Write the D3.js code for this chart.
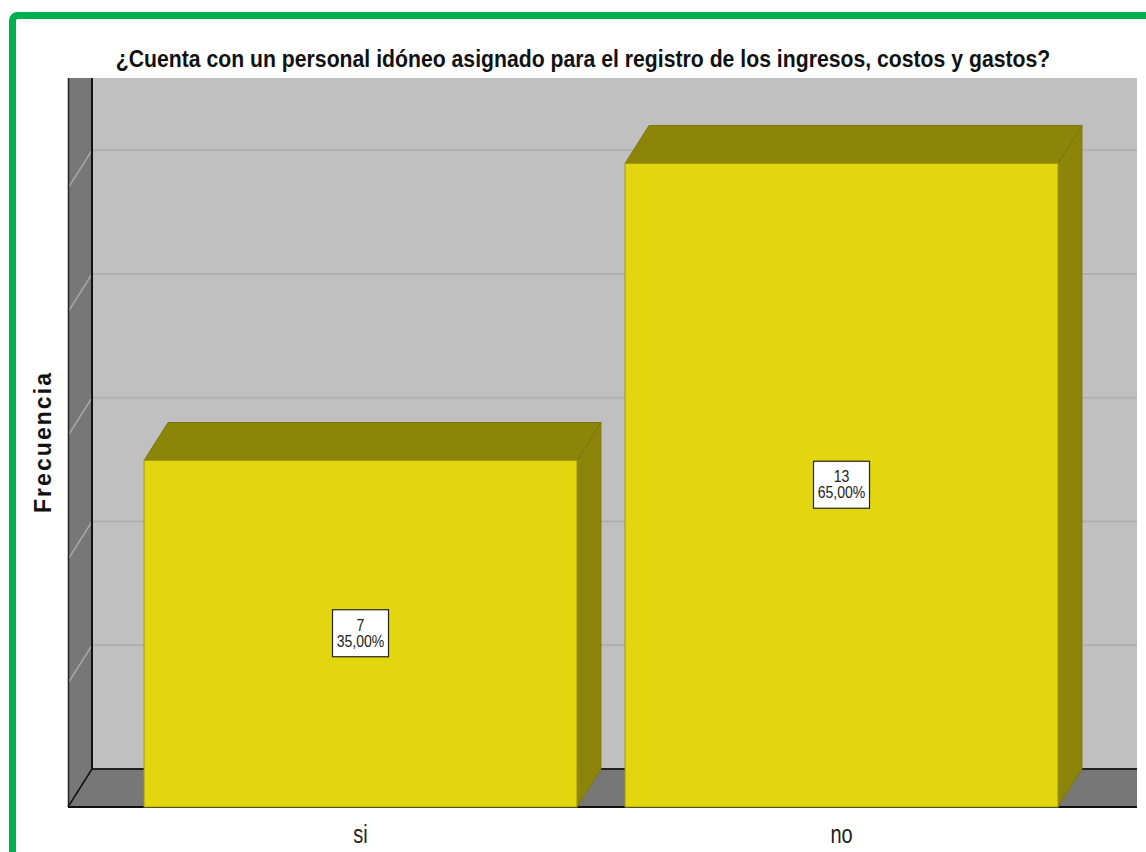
<!DOCTYPE html>
<html>
<head>
<meta charset="utf-8">
<script src="https://cdn.jsdelivr.net/npm/d3@7"></script>
<style>
  html, body { margin: 0; padding: 0; background: #fff; }
  svg { display: block; }
</style>
</head>
<body>
<svg id="chart" width="1146" height="852"></svg>
<script>
// ---- data ----
const categories = ["si", "no"];
const counts = [7, 13];
const percents = ["35,00%", "65,00%"];
const gridTicks = [2.5, 5, 7.5, 10, 12.5];
const titleText = "¿Cuenta con un personal idóneo asignado para el registro de los ingresos, costos y gastos?";
const yTitle = "Frecuencia";

// ---- layout ----
const W = 1146, H = 852;
const depthX = 24, depthY = 38;
const backLeft = 92, backRight = 1137, backTop = 78, backBottom = 769;
const frontBottom = backBottom + depthY;
const frontLeft = backLeft - depthX;

const svg = d3.select("#chart");

// scales
const x = d3.scaleBand().domain(categories).range([120, 1082]).paddingInner(0.1).paddingOuter(0.05);
const yBack = d3.scaleLinear().domain([0, 14]).range([backBottom, 76]);
const yFront = v => yBack(v) + depthY;

// green frame
svg.append("rect")
  .attr("x", 12.5).attr("y", 15.5).attr("width", 1300).attr("height", 1000)
  .attr("rx", 5).attr("fill", "none").attr("stroke", "#00B050").attr("stroke-width", 7);

// clip
svg.append("defs").append("clipPath").attr("id", "plotclip")
  .append("rect").attr("x", 0).attr("y", backTop).attr("width", backRight).attr("height", H - backTop);

const g = svg.append("g").attr("clip-path", "url(#plotclip)");

// back wall
g.append("rect").attr("x", backLeft).attr("y", backTop)
  .attr("width", backRight - backLeft).attr("height", backBottom - backTop)
  .attr("fill", "#C0C0C0");

// back wall gridlines
g.selectAll(".gridb").data(gridTicks).join("line")
  .attr("x1", backLeft).attr("x2", backRight)
  .attr("y1", d => yBack(d)).attr("y2", d => yBack(d))
  .attr("stroke", "#AFAFAF").attr("stroke-width", 2);

// left wall
g.append("path")
  .attr("d", `M${frontLeft},${backTop - 60}L${backLeft},${backTop - 60}L${backLeft},${backBottom}L${frontLeft},${frontBottom}Z`)
  .attr("fill", "#777777");

// left wall gridlines
g.selectAll(".gridl").data(gridTicks).join("line")
  .attr("x1", backLeft).attr("x2", frontLeft)
  .attr("y1", d => yBack(d)).attr("y2", d => yBack(d) + depthY)
  .attr("stroke", "#A6A6A6").attr("stroke-width", 1.5);

// floor
g.append("path")
  .attr("d", `M${backLeft},${backBottom}L${backRight},${backBottom}L${backRight},${frontBottom}L${frontLeft},${frontBottom}Z`)
  .attr("fill", "#777777");

// edges
const edge = (x1, y1, x2, y2, c, w) => g.append("line")
  .attr("x1", x1).attr("y1", y1).attr("x2", x2).attr("y2", y2)
  .attr("stroke", c).attr("stroke-width", w);
edge(frontLeft + 0.5, backTop, frontLeft + 0.5, frontBottom, "#222", 1.5);
edge(backLeft, backTop, backLeft, backBottom, "#111", 2);
edge(backLeft, backBottom, backRight, backBottom, "#222", 2);
edge(frontLeft, frontBottom, backRight, frontBottom, "#111", 2);
edge(frontLeft, frontBottom, backLeft, backBottom, "#111", 1.5);

// bars
const bw = x.bandwidth();
const rows = categories.map((c, i) => ({ c, v: counts[i], p: percents[i] }));
const bars = g.selectAll(".bar").data(rows).join("g").attr("class", "bar");

bars.append("path") // side
  .attr("d", d => {
    const xr = x(d.c) + bw;
    return `M${xr},${yFront(d.v)}L${xr + depthX},${yBack(d.v)}L${xr + depthX},${backBottom}L${xr},${frontBottom}Z`;
  })
  .attr("fill", "#8C8509").attr("stroke", "#7D7708").attr("stroke-width", 1);

bars.append("path") // top
  .attr("d", d => {
    const xl = x(d.c), xr = x(d.c) + bw;
    return `M${xl},${yFront(d.v)}L${xl + depthX},${yBack(d.v)}L${xr + depthX},${yBack(d.v)}L${xr},${yFront(d.v)}Z`;
  })
  .attr("fill", "#8C8509").attr("stroke", "#7D7708").attr("stroke-width", 1);

bars.append("rect") // front
  .attr("x", d => x(d.c)).attr("y", d => yFront(d.v))
  .attr("width", bw).attr("height", d => frontBottom - yFront(d.v))
  .attr("fill", "#E2D70E").attr("stroke", "#A39C0B").attr("stroke-width", 1);

// value labels
const lab = svg.selectAll(".lab").data(rows).join("g").attr("class", "lab")
  .attr("transform", d => `translate(${x(d.c) + bw / 2},${(yFront(d.v) + frontBottom) / 2})`);
lab.append("rect").attr("x", -28).attr("y", -24).attr("width", 56).attr("height", 47)
  .attr("fill", "#fff").attr("stroke", "#222").attr("stroke-width", 1.2);
const labText = (sel, y, f) => sel.append("text")
  .attr("transform", `translate(0,${y}) scale(0.88,1)`).attr("text-anchor", "middle")
  .attr("font-family", "'Liberation Sans', Arial, sans-serif").attr("font-size", 16).attr("fill", "#222")
  .text(f);
labText(lab, -3, d => d.v);
labText(lab, 13, d => d.p);

// category labels
svg.selectAll(".cat").data(categories).join("text")
  .attr("transform", d => `translate(${x(d) + bw / 2},843) scale(0.8,1)`)
  .attr("text-anchor", "middle")
  .attr("font-family", "'Liberation Sans', Arial, sans-serif")
  .attr("font-size", 25).attr("fill", "#222")
  .text(d => d);

// title
const t = svg.append("text").attr("text-anchor", "middle")
  .attr("font-family", "'Liberation Sans', Arial, sans-serif").attr("font-weight", "bold")
  .attr("font-size", 24).attr("fill", "#111").text(titleText);
const tw = t.node().getComputedTextLength();
t.attr("transform", `translate(583,67) scale(${935 / tw},1)`);

// y title
const yt = svg.append("text").attr("transform", "translate(51,442) rotate(-90)")
  .attr("text-anchor", "middle")
  .attr("font-family", "'Liberation Sans', Arial, sans-serif").attr("font-weight", "bold")
  .attr("font-size", 23).attr("fill", "#111").text(yTitle);
const yw = yt.node().getComputedTextLength();
yt.attr("letter-spacing", Math.max(0, (140 - yw) / (yTitle.length - 1)));
</script>
</body>
</html>
